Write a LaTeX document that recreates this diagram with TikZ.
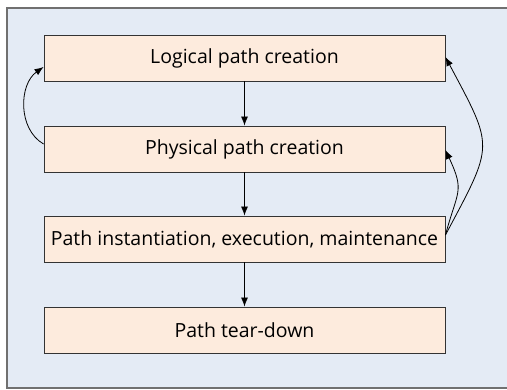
\documentclass[tikz,border=0pt]{standalone}
\usepackage{fontspec}
\setmainfont{Open Sans}
\usetikzlibrary{arrows.meta}
\definecolor{panelbg}{HTML}{E4EBF5}
\definecolor{boxfill}{HTML}{FDEBDD}
\definecolor{framegray}{HTML}{707070}
\tikzset{
  stage/.style={draw=black!80, fill=boxfill, line width=0.9pt, minimum width=401pt, minimum height=46pt, inner sep=0pt, font=\fontsize{19.5}{22}\selectfont},
  flow/.style={-{Latex[length=9pt,width=7pt]}, line width=0.8pt}
}
\begin{document}
\begin{tikzpicture}[x=1pt,y=-1pt]
        \useasboundingbox (0,0) rectangle (507,389);
        \begin{scope}
        \clip (0,0) rectangle (507,389);
        \fill[panelbg] (7,8) rectangle (520,388);
        \draw[framegray, line width=1.5pt] (520,8) -- (7,8) -- (7,388) -- (520,388);
        \end{scope}
        \node[stage] (logical) at (244.5,58) {Logical path creation};
        \node[stage] (physical) at (244.5,149) {Physical path creation};
        \node[stage] (inst) at (244.5,239) {Path instantiation, execution, maintenance};
        \node[stage] (teardown) at (244.5,330) {Path tear-down};
        \draw[flow] (logical) -- (physical);
        \draw[flow] (physical) -- (inst);
        \draw[flow] (inst) -- (teardown);
        % feedback loops
        \draw[flow] ([yshift=5pt]physical.west) to[out=150,in=215] ([yshift=-9pt]logical.west);
        \draw[flow] ([yshift=4pt]inst.east) to[out=75,in=-65,looseness=1.4] ([yshift=-1pt]physical.east);
        \draw[flow] ([yshift=4pt]inst.east) to[out=62,in=-62,looseness=1.5] ([yshift=1pt]logical.east);
    \end{tikzpicture}
\end{document}
